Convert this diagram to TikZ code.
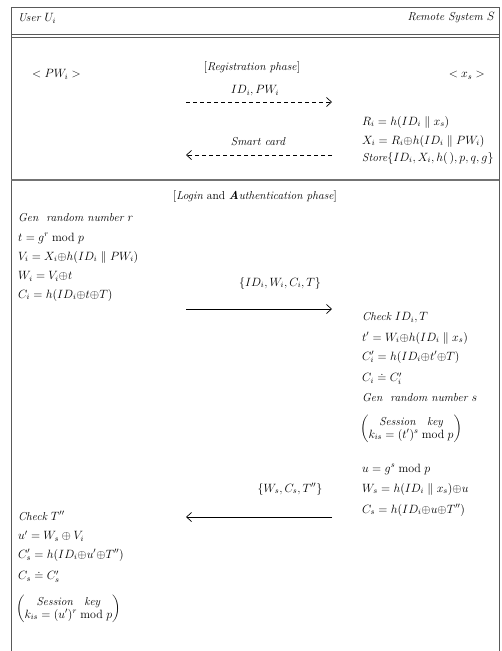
\documentclass[tikz,border=0pt]{standalone}
\usepackage{amsmath,amssymb}
\usetikzlibrary{arrows.meta}
\begin{document}
\begin{tikzpicture}[x=1pt,y=-1pt,
  txt/.style={inner sep=0pt,font=\fontsize{11.5}{13}\selectfont},
  lft/.style={txt,anchor=west},
  rgt/.style={txt,anchor=east},
  ctr/.style={txt,anchor=center},
  frame/.style={draw=black!65,line width=1pt},
  msg/.style={-{Straight Barb[length=5pt,width=9pt,line width=0.7pt]},line width=0.7pt},
  dmsg/.style={msg,dash pattern=on 4pt off 3pt}]
\useasboundingbox (0,0) rectangle (501,651);
% frame
\draw[frame] (11,651) -- (11,7) -- (499,7) -- (499,651);
\draw[frame] (11,34) -- (499,34);
\draw[frame] (11,37) -- (499,37);
\draw[frame,draw=black!55,line width=1.6pt] (11,180) -- (499,180);
% header
\node[lft] (user) at (18,18) {\itshape User $U_i$};
\node[rgt] (rs) at (495,18) {\itshape Remote System $S$};
% registration
\node[ctr] (reg) at (252,67) {$[$\textit{Registration phase}$]$};
\node[lft] (pw) at (32,74) {$<PW_i>$};
\node[rgt] (xs) at (485,75) {$<x_s>$};
\node[ctr] (m1) at (255,91) {$ID_i,PW_i$};
\coordinate (a1s) at (186,102);
\coordinate (a1e) at (332,102);
\draw[dmsg] (a1s) -- (a1e);
\node[lft] (r1) at (362,122) {$R_i = h(ID_i \parallel x_s)$};
\node[lft] (r2) at (362,141) {$X_i = R_i{\oplus} h(ID_i \parallel PW_i)$};
\node[lft] (r3) at (362,158) {$\textit{Store}\{ID_i, X_i, h(\,), p, q, g\}$};
\node[ctr] (m2) at (258,142) {\itshape Smart card};
\coordinate (a2s) at (332,155);
\coordinate (a2e) at (186,155);
\draw[dmsg] (a2s) -- (a2e);
% login
\node[ctr] (log) at (255,196) {$[$\textit{Login} and \textit{\textbf{A}uthentication phase}$]$};
\node[lft] (l1) at (18,218) {\itshape Gen\ \ random number $r$};
\node[lft] (l2) at (18,238) {$t = g^r \bmod p$};
\node[lft] (l3) at (18,257) {$V_i = X_i{\oplus} h(ID_i \parallel PW_i)$};
\node[lft] (l4) at (18,276) {$W_i = V_i{\oplus} t$};
\node[lft] (l5) at (18,295) {$C_i = h(ID_i{\oplus} t{\oplus} T)$};
\node[ctr] (m3) at (280,283) {$\{ID_i, W_i, C_i, T\}$};
\coordinate (a3s) at (186,309);
\coordinate (a3e) at (332,309);
\draw[msg] (a3s) -- (a3e);
\node[lft] (s1) at (362,318) {\itshape Check $ID_i, T$};
\node[lft] (s2) at (362,338) {$t' = W_i{\oplus} h(ID_i \parallel x_s)$};
\node[lft] (s3) at (362,357) {$C_i' = h(ID_i{\oplus} t'{\oplus} T)$};
\node[lft] (s4) at (362,379) {$C_i \doteq C_i'$};
\node[lft] (s5) at (362,398) {\itshape Gen\ \ random number $s$};
\node[lft] (s6) at (360,429) {$\left(\begin{array}{@{}c@{}}\textit{Session}\quad \textit{key}\\ k_{is} = (t')^s \bmod p\end{array}\right)$};
\node[lft] (s7) at (362,469) {$u = g^s \bmod p$};
\node[lft] (s8) at (362,489) {$W_s = h(ID_i \parallel x_s){\oplus} u$};
\node[lft] (s9) at (362,510) {$C_s = h(ID_i{\oplus} u{\oplus} T'')$};
\node[ctr] (m4) at (290,489) {$\{W_s, C_s, T''\}$};
\coordinate (a4s) at (332,517);
\coordinate (a4e) at (186,517);
\draw[msg] (a4s) -- (a4e);
\node[lft] (u1) at (18,516) {\itshape Check $T''$};
\node[lft] (u2) at (18,536) {$u' = W_s \oplus V_i$};
\node[lft] (u3) at (18,555) {$C_s' = h(ID_i{\oplus} u'{\oplus} T'')$};
\node[lft] (u4) at (18,577) {$C_s \doteq C_s'$};
\node[lft] (u5) at (16,609) {$\left(\begin{array}{@{}c@{}}\textit{Session}\quad \textit{key}\\ k_{is} = (u')^r \bmod p\end{array}\right)$};
\end{tikzpicture}
\end{document}
